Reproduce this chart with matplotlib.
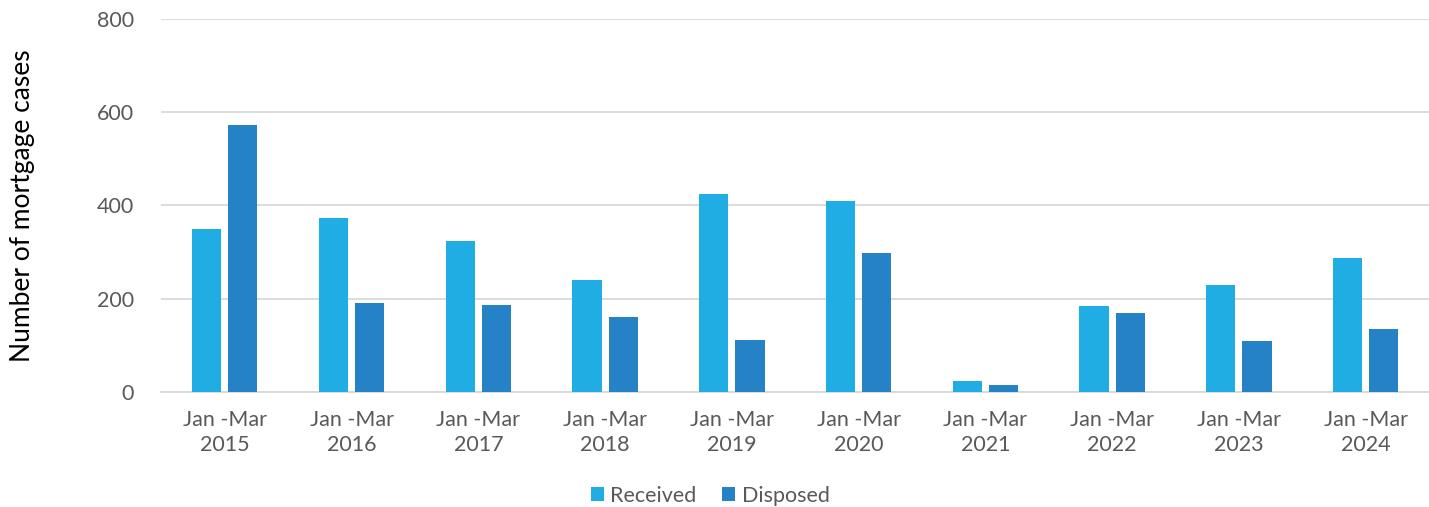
import matplotlib
matplotlib.use("Agg")
import matplotlib.pyplot as plt
import numpy as np

plt.rcParams['font.family'] = ['Lato', 'DejaVu Sans']

# data
periods = ["Jan -Mar\n2015", "Jan -Mar\n2016", "Jan -Mar\n2017", "Jan -Mar\n2018", "Jan -Mar\n2019",
           "Jan -Mar\n2020", "Jan -Mar\n2021", "Jan -Mar\n2022", "Jan -Mar\n2023", "Jan -Mar\n2024"]
received = [349, 372, 323, 239, 424, 409, 22, 185, 230, 286]
disposed = [573, 190, 186, 161, 111, 298, 14, 170, 109, 134]

col_rec = '#1FADE4'
col_dis = '#2682C6'
grey = '#595959'

x = np.arange(len(periods))
w = 0.23
gap = 0.055

fig = plt.figure(figsize=(14.29, 5.07), dpi=100)
ax = fig.add_axes([0.113, 0.2274, 0.887, 0.7351])

ax.bar(x - (w + gap) / 2, received, w, color=col_rec, label='Received', zorder=3)
ax.bar(x + (w + gap) / 2, disposed, w, color=col_dis, label='Disposed', zorder=3)

ax.set_ylim(0, 800)
ax.set_xlim(-0.5, len(periods) - 0.5)
ax.set_yticks([0, 200, 400, 600, 800])
ax.yaxis.grid(True, color='#D9D9D9', linewidth=1.3, zorder=0)
ax.set_axisbelow(True)
for s in ['top', 'right', 'left']:
    ax.spines[s].set_visible(False)
ax.spines['bottom'].set_color('#D9D9D9')
ax.spines['bottom'].set_linewidth(1.3)
ax.tick_params(axis='both', length=0, labelsize=15.5, colors=grey)
ax.tick_params(axis='x', pad=13)
ax.tick_params(axis='y', pad=20)
ax.set_xticks(x)
ax.set_xticklabels(periods, linespacing=1.3)

ax.set_ylabel('Number of mortgage cases', fontsize=19, color='black', labelpad=44)

fig.legend(loc='center', bbox_to_anchor=(0.497, 0.022), ncol=2, frameon=False, fontsize=15.5,
           labelcolor=grey, handlelength=0.6, handleheight=0.6, handletextpad=0.3, columnspacing=1.2)

fig.savefig('out.png', dpi=100)
